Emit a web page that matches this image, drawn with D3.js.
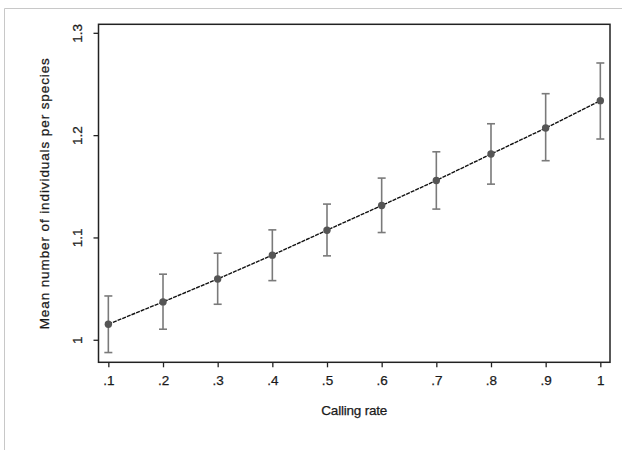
<!DOCTYPE html>
<html><head><meta charset="utf-8">
<script src="https://cdn.jsdelivr.net/npm/d3@7/dist/d3.min.js"></script>
<style>body{margin:0;background:#fff}svg{display:block}text{font-family:"Liberation Sans",Arial,sans-serif;fill:#1a1a1a;stroke:#1a1a1a;stroke-width:0.25px}</style>
</head><body>
<script>
const rates = [0.1,0.2,0.3,0.4,0.5,0.6,0.7,0.8,0.9,1.0];
const means = [1.0157,1.0375,1.0599,1.0832,1.1076,1.1317,1.1562,1.1820,1.2074,1.2342];
const upper = [1.0433,1.0646,1.0851,1.1079,1.1331,1.1585,1.1842,1.2116,1.2410,1.2710];
const lower = [0.9880,1.0108,1.0352,1.0583,1.0825,1.1053,1.1282,1.1526,1.1755,1.1967];
const xTicks = [0.1,0.2,0.3,0.4,0.5,0.6,0.7,0.8,0.9,1.0];
const xTickLabels = [".1",".2",".3",".4",".5",".6",".7",".8",".9","1"];
const yTicks = [1,1.1,1.2,1.3];
const yTickLabels = ["1","1.1","1.2","1.3"];

const W=622,H=450;
const L=98.5,R=610,T=24.3,B=362.3;
const svg=d3.select("body").append("svg").attr("width",W).attr("height",H);
// outer frame
svg.append("path").attr("d",`M4.5,${H}V8.5H${W}`).attr("fill","none").attr("stroke","#c8c8c8").attr("stroke-width",1);

const x=d3.scaleLinear().domain([0.082,1.0177]).range([L,R]);
const y=d3.scaleLinear().domain([0.97847,1.30881]).range([B,T]);

const g=svg.append("g");
// axes
const xAxis=d3.axisBottom(x).tickValues(xTicks).tickFormat((d,i)=>xTickLabels[i]).tickSize(5).tickPadding(8);
const gx=g.append("g").attr("transform",`translate(0,${B})`).call(xAxis);
gx.select(".domain").remove();
gx.selectAll("line").attr("stroke","#222").attr("stroke-width",1.3);
gx.selectAll("text").attr("font-size",13.5).attr("fill","#1a1a1a").attr("font-family","Liberation Sans, Arial, sans-serif");

const yAxis=d3.axisLeft(y).tickValues(yTicks).tickFormat((d,i)=>yTickLabels[i]).tickSize(5).tickPadding(6);
const gy=g.append("g").attr("transform",`translate(${L},0)`).call(yAxis);
gy.select(".domain").remove();
gy.selectAll("line").attr("stroke","#222").attr("stroke-width",1.3);
gy.selectAll("text").attr("font-size",13.5).attr("fill","#1a1a1a").attr("font-family","Liberation Sans, Arial, sans-serif")
  .attr("text-anchor","middle").attr("x",null).attr("dy",null)
  .attr("transform",d=>`translate(-21,${y(d)}) rotate(-90)`).attr("y",0).attr("dy","0.35em");
gy.selectAll(".tick").attr("transform",d=>`translate(0,0)`);
gy.selectAll(".tick line").attr("transform",d=>`translate(0,${y(d)})`);

// plot frame
g.append("rect").attr("x",L).attr("y",T).attr("width",R-L).attr("height",B-T)
 .attr("fill","none").attr("stroke","#222").attr("stroke-width",1.5);

// error bars
const data=rates.map((r,i)=>({r,m:means[i],u:upper[i],l:lower[i]}));
const eb=g.append("g").attr("stroke","#7a7a7a").attr("stroke-width",1.6).attr("fill","none");
data.forEach(d=>{
  const cx=x(d.r);
  eb.append("line").attr("x1",cx).attr("x2",cx).attr("y1",y(d.u)).attr("y2",y(d.l));
  eb.append("line").attr("x1",cx-4).attr("x2",cx+4).attr("y1",y(d.u)).attr("y2",y(d.u));
  eb.append("line").attr("x1",cx-4).attr("x2",cx+4).attr("y1",y(d.l)).attr("y2",y(d.l));
});
// line
g.append("path").datum(data).attr("fill","none").attr("stroke","#111").attr("stroke-width",1.4)
 .attr("stroke-dasharray","4,1")
 .attr("d",d3.line().x(d=>x(d.r)).y(d=>y(d.m)));
// markers
g.append("g").selectAll("circle").data(data).join("circle")
 .attr("cx",d=>x(d.r)).attr("cy",d=>y(d.m)).attr("r",3.7).attr("fill","#555");

// axis titles
svg.append("text").attr("x",(L+R)/2).attr("y",415).attr("text-anchor","middle").attr("font-size",13.5).attr("letter-spacing",-0.2).text("Calling rate");
svg.append("text").attr("transform",`translate(49,${(T+B)/2}) rotate(-90)`).attr("text-anchor","middle")
 .attr("font-size",13.5).attr("letter-spacing",0.9).text("Mean number of individuals per species");
</script>
</body></html>
